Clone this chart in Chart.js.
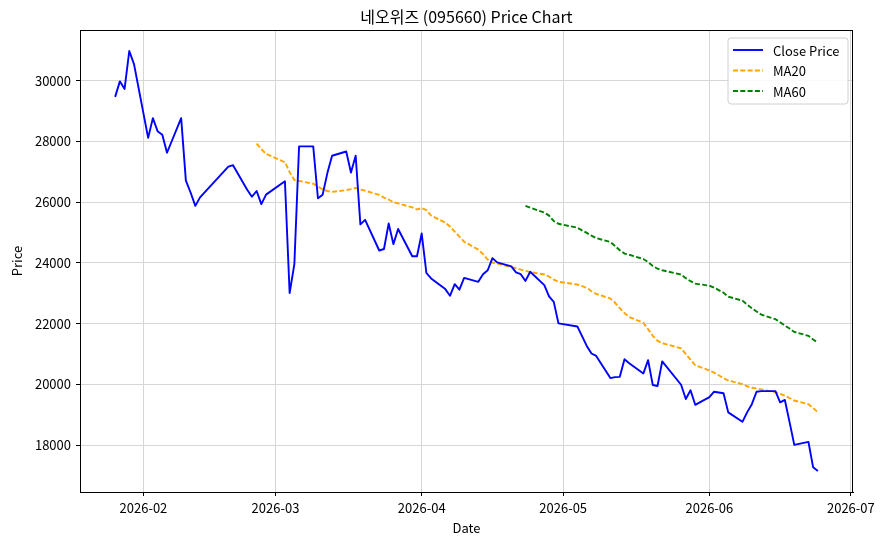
<!DOCTYPE html>
<html>
<head>
<meta charset="utf-8">
<script src="https://cdn.jsdelivr.net/npm/chart.js@4.4.1/dist/chart.umd.min.js"></script>
<style>
  html, body { margin: 0; padding: 0; background: #fff; }
  #wrap { width: 888px; height: 546px; }
</style>
</head>
<body>
<div id="wrap"><canvas id="chart" width="888" height="546"></canvas></div>
<script>
"use strict";

/* ---------- data (trading sessions) ---------- */
const dates = [
  "2026-01-26","2026-01-27","2026-01-28","2026-01-29","2026-01-30",
  "2026-02-02","2026-02-03","2026-02-04","2026-02-05","2026-02-06",
  "2026-02-09","2026-02-10","2026-02-11","2026-02-12","2026-02-13",
  "2026-02-19","2026-02-20","2026-02-23","2026-02-24","2026-02-25","2026-02-26","2026-02-27",
  "2026-03-03","2026-03-04","2026-03-05","2026-03-06",
  "2026-03-09","2026-03-10","2026-03-11","2026-03-12","2026-03-13",
  "2026-03-16","2026-03-17","2026-03-18","2026-03-19","2026-03-20",
  "2026-03-23","2026-03-24","2026-03-25","2026-03-26","2026-03-27",
  "2026-03-30","2026-03-31",
  "2026-04-01","2026-04-02","2026-04-03",
  "2026-04-06","2026-04-07","2026-04-08","2026-04-09","2026-04-10",
  "2026-04-13","2026-04-14","2026-04-15","2026-04-16","2026-04-17",
  "2026-04-20","2026-04-21","2026-04-22","2026-04-23","2026-04-24",
  "2026-04-27","2026-04-28","2026-04-29","2026-04-30",
  "2026-05-04","2026-05-06","2026-05-07","2026-05-08",
  "2026-05-11","2026-05-12","2026-05-13","2026-05-14","2026-05-15",
  "2026-05-18","2026-05-19","2026-05-20","2026-05-21","2026-05-22",
  "2026-05-26","2026-05-27","2026-05-28","2026-05-29",
  "2026-06-01","2026-06-02","2026-06-04","2026-06-05",
  "2026-06-08","2026-06-09","2026-06-10","2026-06-11","2026-06-12",
  "2026-06-15","2026-06-16","2026-06-17","2026-06-18","2026-06-19",
  "2026-06-22","2026-06-23","2026-06-24"
];

const closePrice = [
  29470, 29980, 29730, 30980, 30550,
  28120, 28770, 28340, 28220, 27630, 28770, 26710, 26320, 25880, 26160,
  27170, 27220, 26410, 26180, 26370, 25940, 26250,
  26690, 23010, 23960, 27840, 27840, 26130, 26250, 26960, 27530,
  27670, 26980, 27530, 25270, 25420, 24410, 24460, 25300, 24620, 25120,
  24220, 24220,
  24970, 23670, 23490, 23140, 22920, 23300, 23120, 23510, 23380, 23630,
  23760, 24160, 24020, 23890, 23690, 23630, 23410, 23710, 23270, 22900,
  22720, 22010,
  21910, 21270, 21020, 20940, 20210, 20240, 20250, 20830, 20700, 20360,
  20800, 19980, 19950, 20760, 19990, 19520, 19810, 19330,
  19580, 19760, 19710, 19080, 18770, 19080, 19350, 19760, 19780, 19780,
  19410, 19490, 18760, 18010, 18110, 17270, 17150
];

// MA20: first value on the 20th session (2026-02-25)
const ma20 = [
  27930, 27750, 27590,
  27320, 26990, 26730, 26700, 26610, 26520, 26420, 26370, 26340, 26400,
  26430, 26470, 26420, 26380, 26240, 26150, 26090, 26000, 25960, 25830, 25760,
  25810, 25740, 25560, 25330, 25200, 25030, 24870, 24700, 24440, 24290,
  24110, 24010, 23980, 23860, 23830, 23780, 23740, 23700, 23620, 23550,
  23450, 23380,
  23290, 23180, 23070, 22980, 22830, 22690, 22510, 22350, 22220, 22030,
  21820, 21600, 21440, 21360, 21190, 21000, 20820, 20630,
  20460, 20390, 20210, 20130, 20010, 19940, 19890, 19870, 19840, 19740,
  19690, 19630, 19550, 19470, 19350, 19220, 19090
];

// MA60: first value on the 60th session (2026-04-23)
const ma60 = [
  25880, 25820, 25660, 25560, 25380, 25290,
  25160, 24990, 24900, 24820, 24690, 24560, 24420, 24310, 24270, 24130,
  24030, 23900, 23810, 23760, 23620, 23500, 23400, 23320,
  23250, 23190, 23020, 22890, 22760, 22630, 22510, 22400, 22300, 22150,
  22050, 21940, 21840, 21730, 21600, 21480, 21380
];

const monthTicks = ["2026-02-01","2026-03-01","2026-04-01","2026-05-01","2026-06-01","2026-07-01"];
const priceTicks = [18000, 20000, 22000, 24000, 26000, 28000, 30000];

/* ---------- helpers ---------- */
const ts = d => Date.parse(d + "T00:00:00Z");
const series = (vals) => {
  const off = dates.length - vals.length;
  return vals.map((v, i) => ({ x: ts(dates[i + off]), y: v }));
};

// matplotlib-like 5% margins
const x0 = ts(dates[0]), x1 = ts(dates[dates.length - 1]);
const xPad = (x1 - x0) * 0.05;
const allY = closePrice.concat(ma20, ma60);
const yLo = Math.min(...allY), yHi = Math.max(...allY);
const yPad = (yHi - yLo) * 0.05;

const FONT = "'Noto Sans CJK KR', 'Noto Sans', sans-serif";
Chart.defaults.font.family = FONT;
Chart.defaults.font.size = 13;
Chart.defaults.color = "#000";

/* ---------- frame, title, legend ---------- */
const decor = {
  id: "decor",
  afterDraw(chart) {
    const { ctx, chartArea: a } = chart;
    ctx.save();
    ctx.strokeStyle = "#000";
    ctx.lineWidth = 1;
    ctx.strokeRect(a.left + 0.5, a.top + 0.5, a.right - a.left - 1, a.bottom - a.top);

    ctx.fillStyle = "#000";
    ctx.font = "16px " + FONT;
    ctx.textAlign = "center";
    ctx.textBaseline = "middle";
    ctx.fillText("네오위즈 (095660) Price Chart", (a.left + a.right) / 2, 17);

    // legend box
    const bx = 728, by = 38, bw = 120, bh = 66, r = 3;
    ctx.beginPath();
    ctx.moveTo(bx + r, by);
    ctx.arcTo(bx + bw, by, bx + bw, by + bh, r);
    ctx.arcTo(bx + bw, by + bh, bx, by + bh, r);
    ctx.arcTo(bx, by + bh, bx, by, r);
    ctx.arcTo(bx, by, bx + bw, by, r);
    ctx.closePath();
    ctx.fillStyle = "rgba(255,255,255,0.85)";
    ctx.fill();
    ctx.strokeStyle = "#d0d0d0";
    ctx.stroke();

    ctx.font = "13px " + FONT;
    ctx.textAlign = "left";
    chart.data.datasets.forEach((ds, i) => {
      const y = 50 + i * 20.5;
      ctx.beginPath();
      ctx.setLineDash(ds.borderDash || []);
      ctx.strokeStyle = ds.borderColor;
      ctx.lineWidth = ds.borderWidth;
      ctx.moveTo(733, y);
      ctx.lineTo(763, y);
      ctx.stroke();
      ctx.setLineDash([]);
      ctx.fillStyle = "#000";
      ctx.fillText(ds.label, 773, y + 1);
    });
    ctx.restore();
  }
};

/* ---------- chart ---------- */
new Chart(document.getElementById("chart"), {
  type: "line",
  data: {
    datasets: [
      { label: "Close Price", data: series(closePrice), borderColor: "#0000ff",
        borderWidth: 1.9, pointRadius: 0, tension: 0, borderJoinStyle: "round" },
      { label: "MA20", data: series(ma20), borderColor: "#ffa500",
        borderWidth: 1.9, borderDash: [5, 2.3], pointRadius: 0, tension: 0 },
      { label: "MA60", data: series(ma60), borderColor: "#008000",
        borderWidth: 1.9, borderDash: [5, 2.3], pointRadius: 0, tension: 0 }
    ]
  },
  options: {
    responsive: false,
    animation: false,
    layout: { padding: { top: 30, right: 35, left: 0, bottom: 0 } },
    plugins: { legend: { display: false }, title: { display: false }, tooltip: { enabled: false } },
    scales: {
      x: {
        type: "linear", min: x0 - xPad, max: x1 + xPad,
        afterBuildTicks: s => { s.ticks = monthTicks.map(d => ({ value: ts(d) })); },
        afterFit: s => { s.height = 54; },
        ticks: { autoSkip: false, maxRotation: 0, padding: 4,
          callback: v => new Date(v).toISOString().slice(0, 7) },
        grid: { color: "#d6d6d6", lineWidth: 1, tickLength: 4, tickColor: "#000" },
        border: { color: "#000", width: 1 },
        title: { display: true, text: "Date", padding: { top: 0, bottom: 10 } }
      },
      y: {
        min: yLo - yPad, max: yHi + yPad,
        afterBuildTicks: s => { s.ticks = priceTicks.map(v => ({ value: v })); },
        afterFit: s => { s.width = 80; },
        ticks: { padding: 5, callback: v => String(v) },
        grid: { color: "#d6d6d6", lineWidth: 1, tickLength: 4, tickColor: "#000" },
        border: { color: "#000", width: 1 },
        title: { display: true, text: "Price", padding: { top: 9, bottom: 0 } }
      }
    }
  },
  plugins: [decor]
});
</script>
</body>
</html>
